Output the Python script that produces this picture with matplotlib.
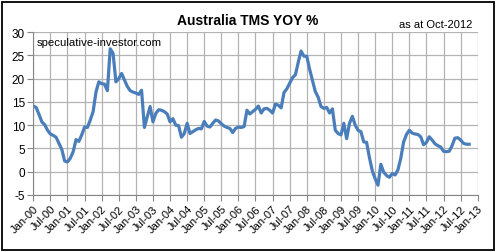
import matplotlib.pyplot as plt
from matplotlib.patches import Rectangle

# Australia TMS, year-on-year % change, monthly Jan-2000 .. Oct-2012
tms_yoy = [14.1, 13.8, 12.3, 10.7, 10.1, 8.9, 8.1, 7.8, 7.4, 6.1, 4.8, 2.3,
           2.1, 2.9, 4.3, 6.9, 6.5, 7.9, 9.6, 9.5, 11.1, 12.9, 17.1, 19.3,
           18.9, 18.8, 17.4, 26.4, 25.4, 19.3, 20.0, 21.1, 19.7, 18.3, 17.4, 17.1,
           16.9, 16.6, 17.5, 9.5, 11.8, 14.0, 10.7, 12.5, 13.3, 13.2, 12.9, 12.4,
           10.7, 11.4, 10.0, 9.9, 7.4, 8.2, 10.4, 8.2, 8.6, 9.0, 9.3, 9.2,
           10.8, 9.8, 9.6, 10.4, 11.1, 10.9, 10.3, 9.8, 9.5, 9.3, 8.4, 9.3,
           9.6, 9.5, 9.7, 13.2, 12.4, 12.9, 13.4, 14.1, 12.6, 13.5, 13.6, 13.2,
           12.6, 14.5, 14.3, 13.7, 17.0, 17.8, 19.0, 20.2, 20.8, 23.5, 25.9, 24.8,
           24.8, 22.0, 19.6, 17.2, 16.0, 14.0, 13.6, 13.8, 12.6, 13.5, 8.9, 8.2,
           7.9, 10.4, 7.1, 10.4, 11.9, 10.0, 8.9, 8.6, 6.4, 6.3, 3.0, 0.2,
           -1.5, -2.9, 1.6, -0.1, -0.8, -1.2, -0.4, -0.7, 0.4, 2.9, 6.4, 8.0,
           8.9, 8.3, 8.1, 8.0, 7.5, 5.8, 6.3, 7.5, 6.8, 6.0, 5.6, 5.3,
           4.4, 4.3, 4.4, 5.6, 7.2, 7.3, 6.8, 6.1, 5.9, 5.9]
months = list(range(len(tms_yoy)))

tick_labels = ["Jan-00", "Jul-00", "Jan-01", "Jul-01", "Jan-02", "Jul-02",
               "Jan-03", "Jul-03", "Jan-04", "Jul-04", "Jan-05", "Jul-05",
               "Jan-06", "Jul-06", "Jan-07", "Jul-07", "Jan-08", "Jul-08",
               "Jan-09", "Jul-09", "Jan-10", "Jul-10", "Jan-11", "Jul-11",
               "Jan-12", "Jul-12", "Jan-13"]
tick_pos = [6 * i for i in range(len(tick_labels))]
y_ticks = [-5, 0, 5, 10, 15, 20, 25, 30]

plt.rcParams['font.family'] = ['Liberation Sans', 'DejaVu Sans']

W, H = 497, 253
fig = plt.figure(figsize=(W / 100, H / 100), dpi=100)
ax = fig.add_axes([33.3 / W, 1 - 196 / H, (477.7 - 33.3) / W, (196 - 33) / H])

ax.plot(months, tms_yoy, color="#4a7ebb", lw=2.3, solid_joinstyle="round")

ax.set_xlim(0, 156)
ax.set_ylim(-5, 30)
ax.set_xticks(tick_pos)
ax.set_xticklabels(tick_labels, rotation=45, ha="right", rotation_mode="anchor", fontsize=8)
ax.set_yticks(y_ticks)
ax.set_yticklabels([str(v) for v in y_ticks], fontsize=8.5)
ax.grid(True, color="#b3b3b3", lw=0.9)
ax.set_axisbelow(True)
for s in ["top", "right"]:
    ax.spines[s].set_visible(False)
for s in ["left", "bottom"]:
    ax.spines[s].set_color("#868686")
ax.tick_params(axis="both", color="#868686", length=4, pad=2)

fig.text(248 / W, 1 - 21 / H, "Australia TMS YOY %", ha="center", va="center",
         fontsize=10, fontweight="bold")
fig.text(472 / W, 1 - 25 / H, "as at Oct-2012", ha="right", va="center", fontsize=8)
ax.text(0.008, 0.97, "speculative-investor.com", transform=ax.transAxes,
        ha="left", va="top", fontsize=8.2)

fig.patches.append(Rectangle((2 / W, 2 / H), 492 / W, 248 / H, transform=fig.transFigure,
                             fill=False, edgecolor="black", lw=1.3))

fig.savefig("out.png", dpi=100)
